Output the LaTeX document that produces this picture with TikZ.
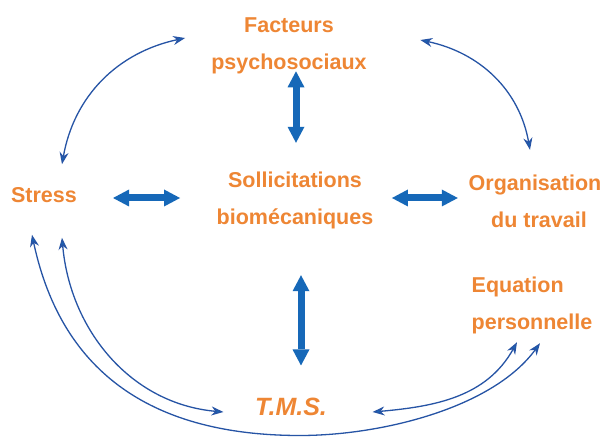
\documentclass[tikz,border=0pt]{standalone}
\usepackage{fontspec}
\setmainfont{Liberation Sans}
\usetikzlibrary{arrows.meta}
\definecolor{txtor}{RGB}{238,134,52}
\definecolor{bigblue}{RGB}{22,104,184}
\definecolor{curveblue}{RGB}{38,84,165}
\begin{document}
\begin{tikzpicture}[x=1pt,y=1pt,
  lbl/.style={text=txtor, font=\fontsize{21.5}{37}\selectfont\bfseries, inner sep=0pt, align=center},
  bigarrow/.style={draw=bigblue, line width=7pt,
    {Triangle[length=16pt,width=17pt,line width=0pt,fill=bigblue]}-{Triangle[length=16pt,width=17pt,line width=0pt,fill=bigblue]}},
  thinarrow/.style={draw=curveblue, line width=1.3pt,
    {Stealth[length=12pt,width=9pt,fill=bigblue]}-{Stealth[length=12pt,width=9pt,fill=bigblue]}}]
\useasboundingbox[fill=white] (0,0) rectangle (603,437);

\node[lbl] (fac) at (289,391) {Facteurs\\psychosociaux};
\node[lbl] (stress) at (44,242) {Stress};
\node[lbl] (sol) at (295,236.5) {Sollicitations\\biomécaniques};
\node[lbl] (org) at (535,235.6) {Organisation\\\hspace*{8pt}du travail};
\node[lbl, align=left] (equ) at (532,131.5) {Equation\\personnelle};
\node[lbl, font=\fontsize{25}{30}\selectfont\bfseries\itshape] (tms) at (291,30) {T.M.S.};
\coordinate (outerlow) at (300,1.5);

% thick double arrows
\draw[bigarrow] ([shift={(7,3)}]fac.south) -- ([shift={(1,29)}]sol.north);
\draw[bigarrow] ([shift={(36,-3)}]stress.east) -- ([shift={(-36.5,2.5)}]sol.west);
\draw[bigarrow] ([shift={(18.5,2.5)}]sol.east) -- ([shift={(-10.7,3.4)}]org.west);
\draw[bigarrow] ([shift={(6,-46)}]sol.south) -- ([shift={(10,32.5)}]tms.north);

% thin curved arrows
\draw[thinarrow] ([shift={(18,23)}]stress.north) to[out=80,in=192] ([shift={(-26,8)}]fac.west);
\draw[thinarrow] ([shift={(53.5,6)}]fac.east) to[out=-12,in=100] ([shift={(-5,25)}]org.north);
\draw[thinarrow] ([shift={(-12,-32)}]stress.south) to[out=-78,in=180,looseness=1.1] (outerlow)
  to[out=0,in=-126,looseness=0.8] ([shift={(8,-9)}]equ.south);
\draw[thinarrow] ([shift={(18,-35)}]stress.south) to[out=-85,in=175] ([shift={(-31.5,-5)}]tms.west);
\draw[thinarrow] ([shift={(45.5,-5)}]tms.east) to[out=5,in=241] ([shift={(-15,-8)}]equ.south);
\end{tikzpicture}
\end{document}
